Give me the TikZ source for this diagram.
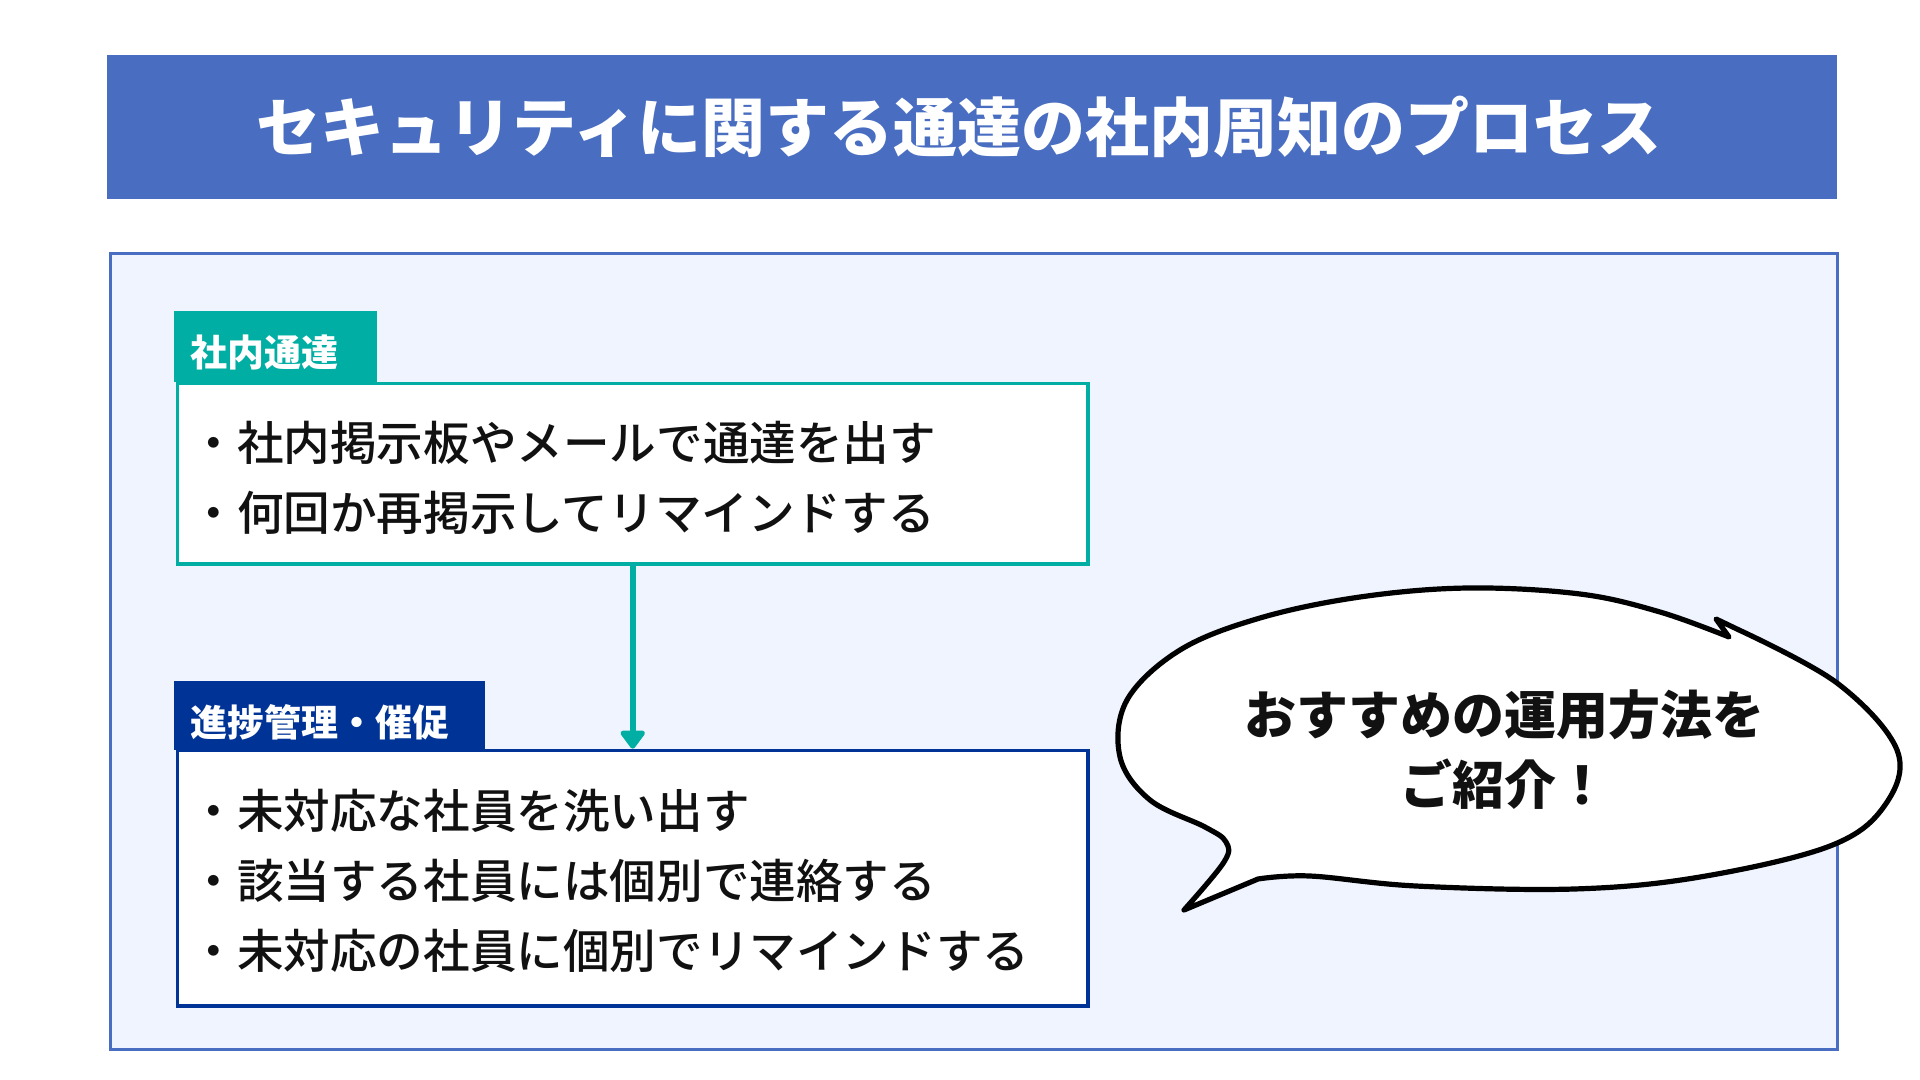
\documentclass[tikz,border=0pt]{standalone}
\usepackage{fontspec}
\setmainfont{Noto Sans CJK JP}
\newfontfamily\medfont{Noto Sans CJK JP Medium}
\usetikzlibrary{arrows.meta}
\definecolor{titleblue}{HTML}{486DC1}
\definecolor{panelfill}{HTML}{EFF4FE}
\definecolor{tealc}{HTML}{00AEA3}
\definecolor{navyc}{HTML}{003396}
\definecolor{ink}{HTML}{111111}
\tikzset{
  tagbox/.style={anchor=north west, inner sep=0pt, outer sep=0pt},
  itembox/.style={draw, fill=white, line width=1.7pt, anchor=north west, inner sep=0pt},
  tagtext/.style={anchor=west, inner sep=0pt, text=white, font=\fontsize{18.5}{20}\selectfont\bfseries},
  itemtext/.style={anchor=west, inner sep=0pt, text=ink, align=left, font=\medfont\fontsize{23.3}{35}\selectfont},
  flowarrow/.style={draw=tealc, line width=3.2pt, -{Triangle[width=14pt,length=10pt,round]}},
  bubble/.style={draw=black, fill=white, line width=2.6pt, line join=round}
}
\begin{document}
\begin{tikzpicture}[x=0.5pt,y=-0.5pt]
\useasboundingbox (0,0) rectangle (1920,1080);
\fill[white] (0,0) rectangle (1920,1080);
% title bar
\node[fill=titleblue, anchor=north west, minimum width=865pt, minimum height=72pt, inner sep=0pt] (title) at (107,55) {};
\node[text=white, font=\fontsize{32}{36}\selectfont\bfseries, inner sep=0pt] (titletext) at (959,127) {セキュリティに関する通達の社内周知のプロセス};
% panel
\node[draw=titleblue, fill=panelfill, line width=1.5pt, anchor=north west, minimum width=863.5pt, minimum height=397.5pt, inner sep=0pt] (panel) at (108.5,252.5) {};
% box 1
\node[tagbox, fill=tealc, minimum width=101.5pt, minimum height=35.5pt] (tag1) at (174,311) {};
\node[tagtext] (tag1text) at (190,352) {社内通達};
\node[itembox, draw=tealc, minimum width=455.3pt, minimum height=90.3pt] (box1) at (175.7,381.7) {};
\node[itemtext] (box1text) at (190,478) {・社内掲示板やメールで通達を出す\\・何回か再掲示してリマインドする};
% box 2
\node[tagbox, fill=navyc, minimum width=155.5pt, minimum height=34.5pt] (tag2) at (174,681) {};
\node[tagtext] (tag2text) at (190,722) {進捗管理・催促};
\node[itembox, draw=navyc, minimum width=455.3pt, minimum height=127.8pt] (box2) at (175.7,748.7) {};
\node[itemtext] (box2text) at (190,881) {・未対応な社員を洗い出す\\・該当する社員には個別で連絡する\\・未対応の社員に個別でリマインドする};
% arrow
\draw[flowarrow] (box1.south) -- (box2.north);
% speech bubble
\draw[bubble] (1716,619) -- (1739,630)
  -- plot[smooth,tension=0.6] coordinates {(1739,630) (1837,683) (1897,750) (1885,805) (1830,846) (1700,877) (1574,889) (1416,886) (1310,876) (1258,879)}
  -- (1184,910)
  -- plot[smooth,tension=0.6] coordinates {(1184,910) (1224,862) (1226,842) (1205,827) (1150,800) (1120,757) (1127,700) (1180,650) (1260,618) (1360,597) (1468,588) (1580,594) (1660,612) (1729,637)}
  -- cycle;
\node[text=ink, align=center, font=\fontsize{26}{35}\selectfont\bfseries, inner sep=0pt] (bubbletext) at (1504,750) {おすすめの運用方法を\\ご紹介！};
\end{tikzpicture}
\end{document}
